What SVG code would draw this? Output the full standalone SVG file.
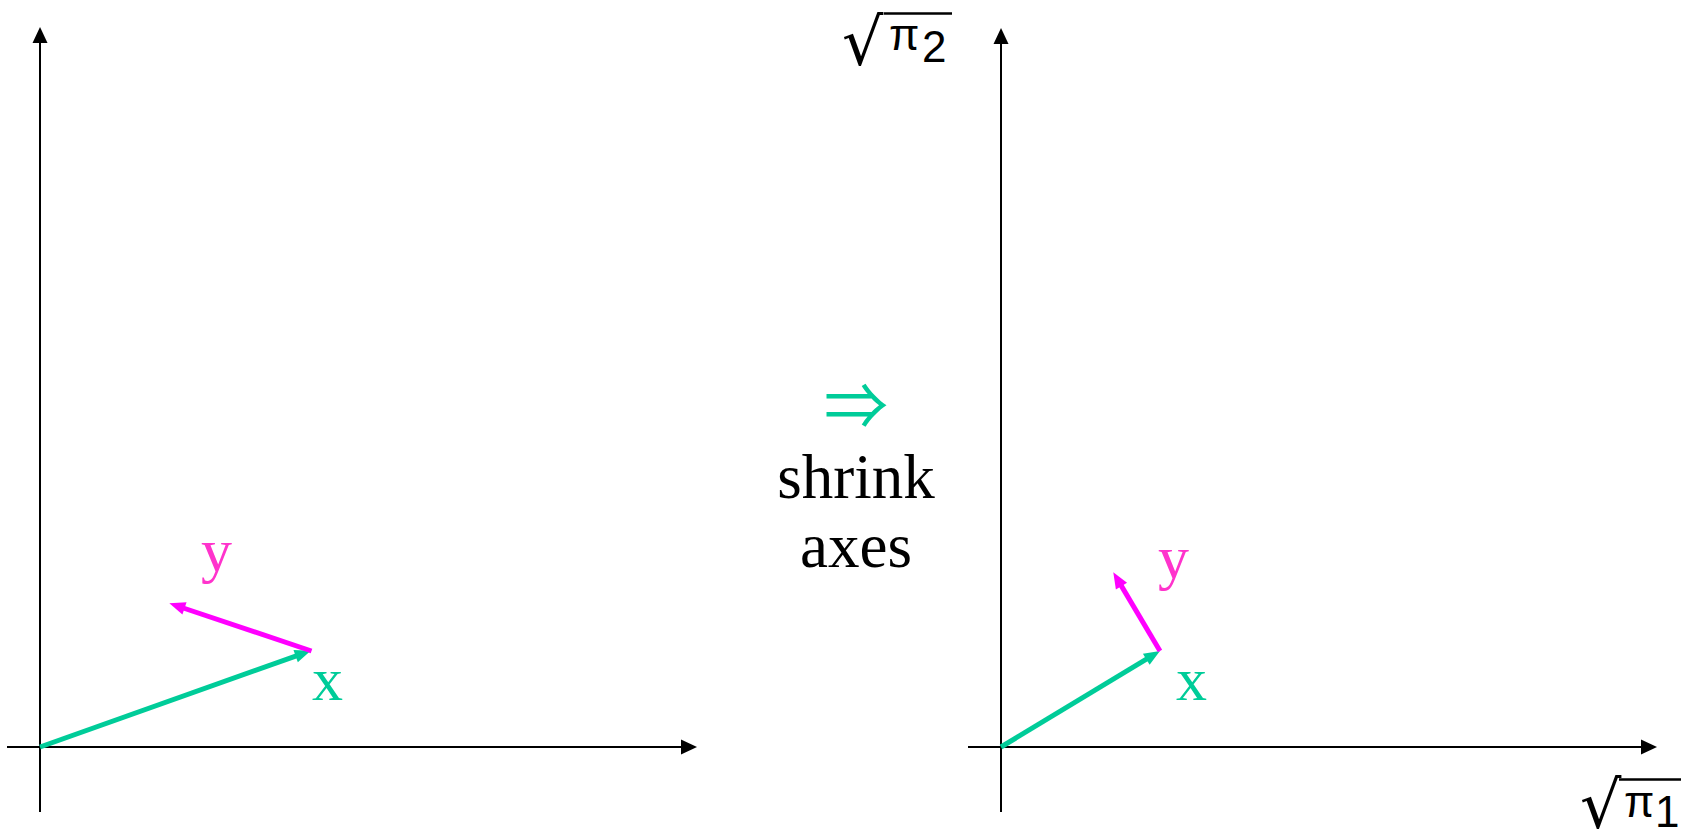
<svg xmlns="http://www.w3.org/2000/svg" width="1681" height="835" viewBox="0 0 1681 835">
<style>
.axis{stroke:#000;stroke-width:2;fill:none}
.vg{stroke:#00CC99;stroke-width:5;fill:none}
.vm{stroke:#FF00FF;stroke-width:5;fill:none}
.serif{font-family:"Liberation Serif","Times New Roman",serif}
.sans{font-family:"Liberation Sans",Arial,sans-serif}
.rad{font-family:"DejaVu Sans",sans-serif;font-size:65px}
.lbl{font-size:62px}
.bar{stroke:#000;stroke-width:2.5}
</style>
<defs>
<marker id="ax" markerUnits="userSpaceOnUse" markerWidth="16" markerHeight="15" refX="2" refY="7.5" orient="auto" overflow="visible"><path d="M0,0 L16,7.5 L0,15 z" fill="#000"/></marker>
<marker id="mg" markerUnits="userSpaceOnUse" markerWidth="16" markerHeight="13" refX="6" refY="6.5" orient="auto" overflow="visible"><path d="M0,0 L16,6.5 L0,13 z" fill="#00CC99"/></marker>
<marker id="mm" markerUnits="userSpaceOnUse" markerWidth="16" markerHeight="13" refX="6" refY="6.5" orient="auto" overflow="visible"><path d="M0,0 L16,6.5 L0,13 z" fill="#FF00FF"/></marker>
</defs>
<rect width="1681" height="835" fill="#fff"/>
<g id="axes-left">
<line class="axis" x1="40" y1="812" x2="40" y2="41" marker-end="url(#ax)"/>
<line class="axis" x1="7" y1="747" x2="683" y2="747" marker-end="url(#ax)"/>
</g>
<g id="axes-right">
<line class="axis" x1="1001" y1="812" x2="1001" y2="42" marker-end="url(#ax)"/>
<line class="axis" x1="968" y1="747" x2="1643" y2="747" marker-end="url(#ax)"/>
</g>
<g id="connectors">
<line class="vg" x1="40" y1="747" x2="301.3" y2="654.1" marker-end="url(#mg)"/>
<line class="vm" x1="311.5" y1="651" x2="178.8" y2="606.5" marker-end="url(#mm)"/>
<line class="vg" x1="1001" y1="747" x2="1151.4" y2="656.2" marker-end="url(#mg)"/>
<line class="vm" x1="1160" y1="651" x2="1118.4" y2="580.9" marker-end="url(#mm)"/>
</g>
<g id="label-left-y"><text class="serif lbl" x="201" y="571" fill="#FF33CC">y</text></g>
<g id="label-left-x"><text class="serif lbl" x="312" y="700" fill="#00CC99">x</text></g>
<g id="label-right-y"><text class="serif lbl" x="1158" y="578" fill="#FF33CC">y</text></g>
<g id="label-right-x"><text class="serif lbl" x="1176" y="700" fill="#00CC99">x</text></g>
<g id="middle">
<text x="856" y="429" font-family="'Noto Sans CJK JP',sans-serif" font-size="64" fill="#00CC99" text-anchor="middle">⇒</text>
<text class="serif" x="856" y="498" font-size="63" text-anchor="middle">shrink</text>
<text class="serif" x="856" y="567" font-size="63" text-anchor="middle">axes</text>
</g>
<g id="label-sqrt-pi2">
<text class="rad" x="842" y="65">√</text>
<line class="bar" x1="884" y1="13.5" x2="952" y2="13.5"/>
<text class="sans" x="889" y="50" font-size="44">π</text>
<text class="sans" x="922" y="62" font-size="44">2</text>
</g>
<g id="label-sqrt-pi1">
<text class="rad" x="1580" y="828">√</text>
<line class="bar" x1="1619" y1="779.5" x2="1681" y2="779.5"/>
<text class="sans" x="1624" y="817" font-size="44">π</text>
<text class="sans" x="1655" y="827" font-size="44">1</text>
</g>
</svg>
